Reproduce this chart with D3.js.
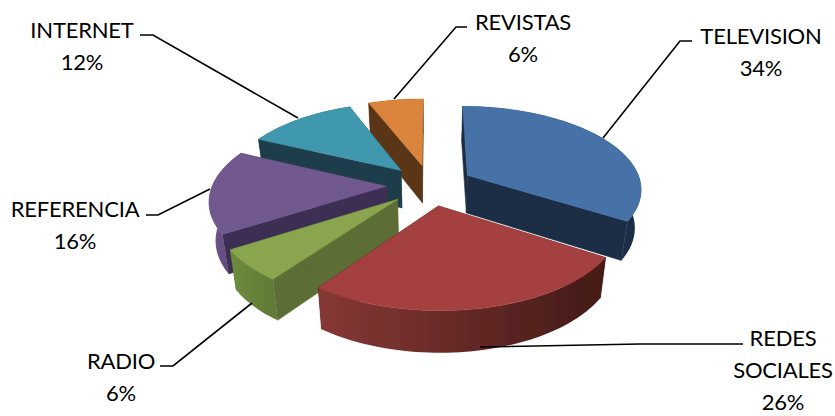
<!DOCTYPE html>
<html><head><meta charset="utf-8">
<script src="https://cdn.jsdelivr.net/npm/d3@7"></script>
<style>html,body{margin:0;padding:0;background:#fff}svg{display:block}
text{font-family:Lato,sans-serif;font-size:22px;letter-spacing:-0.2px;fill:#000}</style></head>
<body><svg id="c" width="835" height="416"></svg>
<script>
const categories=["TELEVISION","REDES SOCIALES","RADIO","REFERENCIA","INTERNET","REVISTAS"];
const values=[34,26,6,16,12,6];
const topColors=["#4672A8","#A5413F","#89A54E","#71588F","#4198AF","#DB843D"];
const wallColors=["#1B2E45","#4A1D1A","#5B6E34","#3D2E52","#1B3E48","#5A3415"];
const rimFrom=["#1B2E45","#431A17","#5F7A36","#5A4575","#1B3E48","#5A3415"];
const rimTo=["#1B2E45","#873835","#6E8C3E","#6E568C","#1B3E48","#5A3415"];
const drawOrder=[5,4,0,3,2,1];
const labelLines=[["TELEVISION"],["REDES","SOCIALES"],["RADIO"],["REFERENCIA"],["INTERNET"],["REVISTAS"]];
const labelPos=[[761,44],[783,346],[121,369],[75,217],[82,38],[523,30]];
const leaderPaths=[[[603,138],[680,41],[692,41]],[[480,347],[640,344],[743,344]],[[252,303],[173,366],[160,366]],[[210,189],[158,215],[146,215]],[[298,118],[153,35],[140,35]],[[394,99],[456,27],[467,27]]];

const svg=d3.select("#c");
const defs=svg.append("defs");
defs.append("filter").attr("id","soft").attr("x","-5%").attr("y","-5%").attr("width","110%").attr("height","110%")
  .append("feGaussianBlur").attr("stdDeviation",0.6);
const g=svg.append("g").attr("filter","url(#soft)");
const cx=430,cy=185,Rx=174,Ry=82,K=0.15,EXP=0.25,DEPTH=38,SHR=0.97;
const pie=d3.pie().sort(null).value(d=>d);
const arcs=pie(values);
const project=(X,Y,down)=>{
  const w=1+K*Y;
  let sx=cx+Rx*X/w, sy=cy-Ry*Y/w;
  if(down){sx=cx+(sx-cx)*SHR; sy=sy+DEPTH/Math.sqrt(w);}
  return [sx,sy];
};
const line=d3.line();
arcs.forEach(a=>{a.mid=(a.startAngle+a.endAngle)/2;a.ox=EXP*Math.sin(a.mid);a.oy=EXP*Math.cos(a.mid);});
function rimPt(a,t,down){return project(a.ox+Math.sin(t),a.oy+Math.cos(t),down);}
drawOrder.forEach(i=>{
  const a=arcs[i];
  const apexT=project(a.ox,a.oy,false),apexB=project(a.ox,a.oy,true);
  const N=Math.max(6,Math.round((a.endAngle-a.startAngle)/0.03));
  const ts=d3.range(N+1).map(k=>a.startAngle+(a.endAngle-a.startAngle)*k/N);
  [a.startAngle,a.endAngle].forEach(t=>{
    g.append("path").attr("d",line([apexT,rimPt(a,t,false),rimPt(a,t,true),apexB])+"Z")
     .attr("fill",wallColors[i]).attr("stroke",wallColors[i]).attr("stroke-width",0.5);
  });
  const topPts=ts.map(t=>rimPt(a,t,false)),botPts=ts.map(t=>rimPt(a,t,true));
  const xs=topPts.map(p=>p[0]);
  const gid="rim"+i;
  const lg=defs.append("linearGradient").attr("id",gid).attr("gradientUnits","userSpaceOnUse")
    .attr("x1",d3.max(xs)).attr("x2",d3.min(xs)).attr("y1",0).attr("y2",0);
  lg.append("stop").attr("offset",0).attr("stop-color",rimFrom[i]);
  lg.append("stop").attr("offset",1).attr("stop-color",rimTo[i]);
  g.append("path").attr("d",line([...topPts,...botPts.reverse()])+"Z").attr("fill",`url(#${gid})`);
  g.append("path").attr("d",line([apexT,...topPts])+"Z")
   .attr("fill",topColors[i]).attr("stroke",topColors[i]).attr("stroke-width",0.5);
});
leaderPaths.forEach(p=>{
  svg.append("path").attr("d",line(p)).attr("fill","none").attr("stroke","#000").attr("stroke-width",1.6);
});
labelLines.forEach((ls,i)=>{
  const t=svg.append("text").attr("text-anchor","middle").attr("x",labelPos[i][0]).attr("y",labelPos[i][1]);
  [...ls,values[i]+"%"].forEach((s,j)=>t.append("tspan").attr("x",labelPos[i][0]).attr("dy",j?32:0).text(s));
});
</script></body></html>
